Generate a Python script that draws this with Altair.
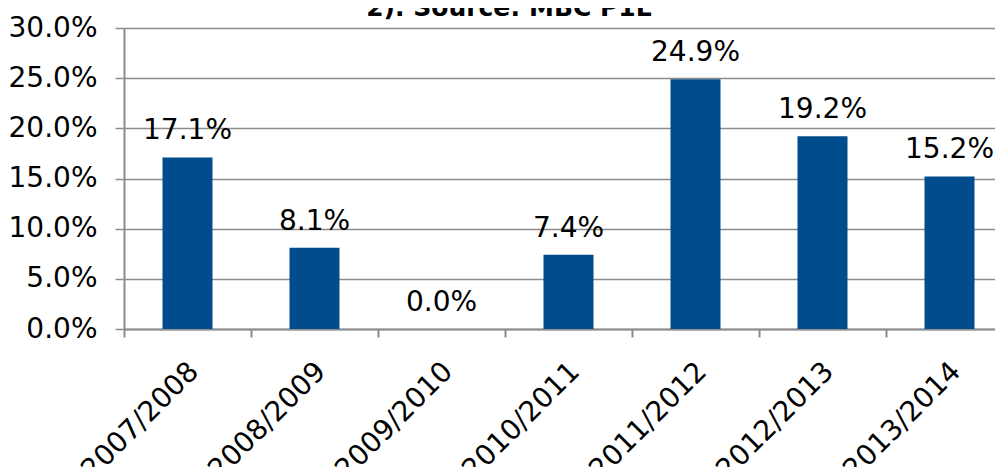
import altair as alt
import pandas as pd

years = ["2007/2008", "2008/2009", "2009/2010", "2010/2011", "2011/2012", "2012/2013", "2013/2014"]
pct = [17.1, 8.1, 0.0, 7.4, 24.9, 19.2, 15.2]

df = pd.DataFrame({"year": years, "value": [p / 100 for p in pct]})

FONT = "DejaVu Sans"
BLUE = "#004C8C"
GRAY = "#8C8C8C"

x = alt.X("year:N", sort=years, title=None,
          scale=alt.Scale(paddingInner=0, paddingOuter=0, range=[0, 889]),
          axis=alt.Axis(labelAngle=-45, labelAlign="right", labelBaseline="top",
                        bandPosition=0, labelPadding=20, labelOffset=-3,
                        tickSize=8, tickColor=GRAY, tickWidth=2,
                        domainColor=GRAY, domainWidth=2,
                        labelFont=FONT, labelFontSize=28, labelColor="black"))
y = alt.Y("value:Q", title=None,
          scale=alt.Scale(domain=[0, 0.30], nice=False),
          axis=alt.Axis(format=".1%", values=[0, 0.05, 0.10, 0.15, 0.20, 0.25, 0.30],
                        grid=True, gridColor=GRAY, gridWidth=1.5,
                        tickSize=9, tickColor=GRAY, tickWidth=1.5,
                        domainColor=GRAY, domainWidth=2, labelPadding=18,
                        labelFont=FONT, labelFontSize=28, labelColor="black"))

bars = alt.Chart(df).mark_bar(size=50, color=BLUE).encode(x=x, y=y)
labels = alt.Chart(df).mark_text(font=FONT, fontSize=28, color="black", dy=-18,
                                 baseline="alphabetic").encode(
    x=alt.X("year:N", sort=years),
    y="value:Q",
    text=alt.Text("value:Q", format=".1%"))

chart = (bars + labels).properties(
    width=871, height=301,
    autosize=alt.AutoSizeParams(type="none"),
    padding={"left": 116, "top": 20, "right": 0, "bottom": 138},
    title=alt.TitleParams("2). Source: MBC P1E", font=FONT, fontSize=25, fontWeight="bold",
                          color="black", anchor="middle", dx=-50, dy=38, offset=11,
                          frame="group", baseline="alphabetic"),
).configure_view(stroke=None)

chart.save("out.html", embed_options={"renderer": "svg", "actions": False})
